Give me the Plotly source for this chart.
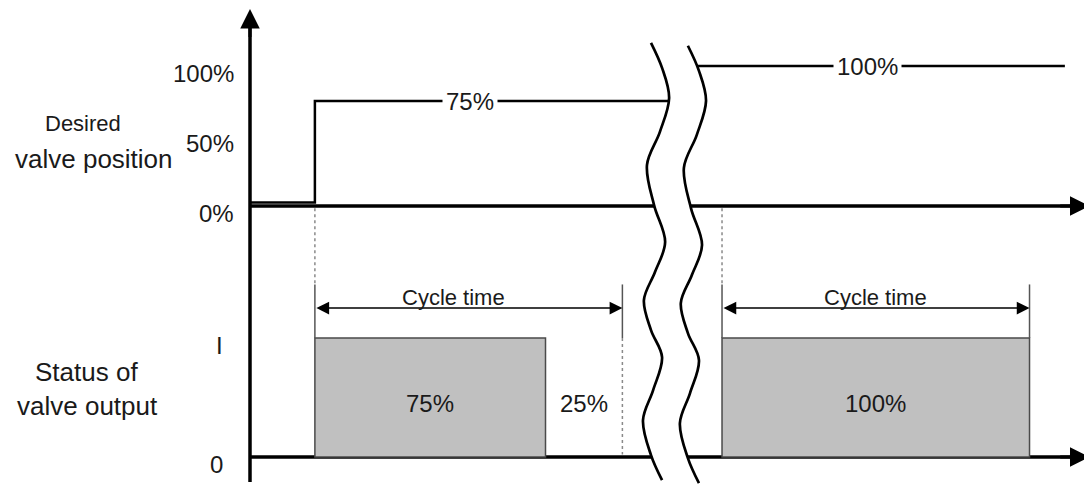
import plotly.graph_objects as go

# time in arbitrary units, one cycle time = 100
cycle_time = 100
cycle_start = [21.1, 153.5]
duty = [0.75, 1.0]
on_text = ['75%', '100%']
off_text = '25%'
t_end = 273

# desired valve position (%), before and after the time break
pos_t_before = [0, 21.1, 21.1, 136.3]
pos_before = [2.5, 2.5, 75, 75]
pos_t_after = [145.7, 265]
pos_after = [100, 100]
pos_labels = [(71.5, 75, '75%'), (200.7, 100, '100%')]

pct_ticks = [100, 50, 0]
pct_tick_text = ['100%', '50%', '0%']
status_ticks = [1, 0]
status_tick_text = ['I', '0']

# wavy time-break mark (time, fraction of height)
break_t = [130.4, 134.0, 136.3, 133.3, 129.1, 131.4, 135.0, 131.7, 128.1, 130.4, 134.0, 131.1, 127.8, 130.4, 134.0]
break_f = [0.913, 0.862, 0.801, 0.732, 0.665, 0.583, 0.508, 0.447, 0.390, 0.329, 0.274, 0.207, 0.146, 0.075, 0.024]
break_gap = 12.0

FONT = 'Liberation Sans, Arial, sans-serif'
TXT = '#1a1a1a'

fig = go.Figure()

# desired valve position
fig.add_trace(go.Scatter(x=pos_t_before, y=pos_before, mode='lines',
                         line=dict(color='black', width=2.5), yaxis='y'))
fig.add_trace(go.Scatter(x=pos_t_after, y=pos_after, mode='lines',
                         line=dict(color='black', width=2.5), yaxis='y'))

# valve output (on time of each cycle)
fig.add_trace(go.Bar(
    x=[s + d * cycle_time / 2 for s, d in zip(cycle_start, duty)],
    y=[1] * len(duty), width=[d * cycle_time for d in duty], base=0,
    marker=dict(color='#c0c0c0', line=dict(color='#4a4a4a', width=1.5)),
    yaxis='y2'))

# cycle limits: dotted guide lines + solid extension lines
top_axis_in_status = 2.09
ext_top = 1.45
for s in cycle_start:
    e = s + cycle_time
    fig.add_trace(go.Scatter(x=[s, s], y=[top_axis_in_status, ext_top], mode='lines',
                             line=dict(color='#8a8a8a', width=1.5, dash='dot'), yaxis='y2'))
    fig.add_trace(go.Scatter(x=[s, s, None, e, e], y=[ext_top, 1, None, ext_top, 1], mode='lines',
                             line=dict(color='#555555', width=1.5), yaxis='y2'))
# off part of the first cycle
e1 = cycle_start[0] + cycle_time
fig.add_trace(go.Scatter(x=[e1, e1], y=[1, 0.02], mode='lines',
                         line=dict(color='#8a8a8a', width=1.5, dash='dot'), yaxis='y2'))

# time break: white gap, then the two wavy lines
right_t = [t + break_gap for t in break_t]
right_f = [f - 0.006 for f in break_f]
fig.add_trace(go.Scatter(x=break_t + right_t[::-1], y=break_f + right_f[::-1], mode='lines',
                         fill='toself', fillcolor='white', line=dict(width=0, shape='spline'),
                         yaxis='y3'))
for bx, by in [(break_t, break_f), (right_t, right_f)]:
    fig.add_trace(go.Scatter(x=bx, y=by, mode='lines',
                             line=dict(color='black', width=2.7, shape='spline'), yaxis='y3'))

# axes as shapes below the traces
shapes = [
    dict(type='line', xref='x', yref='y', x0=0, x1=t_end - 3, y0=0, y1=0,
         line=dict(color='black', width=3.5), layer='below'),
    dict(type='line', xref='x', yref='y2', x0=0, x1=t_end - 3, y0=0, y1=0,
         line=dict(color='black', width=3.5), layer='below'),
    dict(type='line', xref='x', yref='paper', x0=0, x1=0, y0=0.0366, y1=0.97,
         line=dict(color='black', width=3.5), layer='below'),
]

ann = []
# arrow heads
for yr in ['y', 'y2']:
    ann.append(dict(x=t_end, y=0, xref='x', yref=yr, ax=t_end - 10, ay=0, axref='x', ayref=yr,
                    showarrow=True, arrowhead=2, arrowwidth=3, arrowsize=1.3,
                    arrowcolor='black', text=''))
ann.append(dict(x=0, y=0.999, xref='x', yref='paper', ax=0, ay=30, axref='pixel', ayref='pixel',
                showarrow=True, arrowhead=2, arrowwidth=3, arrowsize=1.3,
                arrowcolor='black', text=''))

# cycle time arrows and labels
for i, s in enumerate(cycle_start):
    ann.append(dict(x=s + cycle_time, y=1.252, ax=s, ay=1.252, xref='x', yref='y2',
                    axref='x', ayref='y2', showarrow=True, arrowhead=2, arrowside='end+start',
                    arrowwidth=1.5, arrowsize=1.7, arrowcolor='black', text=''))
    ann.append(dict(x=s + cycle_time / 2, y=1.34, xref='x', yref='y2', text='Cycle time',
                    showarrow=False, xshift=-15 if i == 0 else 0,
                    font=dict(size=22, family=FONT, color=TXT)))
    ann.append(dict(x=s + duty[i] * cycle_time / 2, y=0.45, xref='x', yref='y2', text=on_text[i],
                    showarrow=False, font=dict(size=24, family=FONT, color=TXT)))
ann.append(dict(x=cycle_start[0] + (1 + duty[0]) * cycle_time / 2, y=0.45, xref='x', yref='y2',
                text=off_text, showarrow=False, font=dict(size=24, family=FONT, color=TXT)))

# labels on the setpoint line
for lx, ly, lt in pos_labels:
    ann.append(dict(x=lx, y=ly, xref='x', yref='y', text=lt, showarrow=False,
                    bgcolor='white', borderpad=3, font=dict(size=24, family=FONT, color=TXT)))

# tick labels
for v, t in zip(pct_ticks, pct_tick_text):
    ann.append(dict(x=-4.5, y=v, xref='x', yref='y', text=t, xanchor='right', showarrow=False,
                    yshift=-7, font=dict(size=24, family=FONT, color=TXT)))
for v, t in zip(status_ticks, status_tick_text):
    ann.append(dict(x=-8.1, y=v, xref='x', yref='y2', text=t, xanchor='right', showarrow=False,
                    yshift=-7, font=dict(size=24, family=FONT, color=TXT)))

# t labels
ann.append(dict(x=272.2, y=-21.4, xref='x', yref='y', text='t', xanchor='left', showarrow=False,
                font=dict(size=24, family=FONT, color=TXT)))
ann.append(dict(x=272.2, y=-0.25, xref='x', yref='y2', text='t', xanchor='left', showarrow=False,
                font=dict(size=24, family=FONT, color=TXT)))

# row titles
for tx, ty, tt, fs in [(0.0687, 0.766, 'Desired', 22), (0.0788, 0.693, 'valve position', 26),
                       (0.0723, 0.260, 'Status of', 26), (0.0728, 0.191, 'valve output', 26)]:
    ann.append(dict(x=tx, y=ty, xref='paper', yref='paper', text=tt, showarrow=False,
                    xanchor='center', yanchor='middle',
                    font=dict(size=fs, family=FONT, color=TXT)))

fig.update_layout(
    width=1092, height=492,
    margin=dict(l=0, r=0, t=0, b=0),
    paper_bgcolor='white', plot_bgcolor='white',
    showlegend=False, barmode='overlay',
    xaxis=dict(range=[-78.70, 276.42], visible=False, fixedrange=True),
    yaxis=dict(range=[-210.0, 141.43], visible=False),
    yaxis2=dict(range=[-0.3613, 3.773], visible=False, overlaying='y'),
    yaxis3=dict(range=[-0.01626, 0.98374], visible=False, overlaying='y'),
    shapes=shapes,
    annotations=ann,
)

fig.write_html("out.html")
